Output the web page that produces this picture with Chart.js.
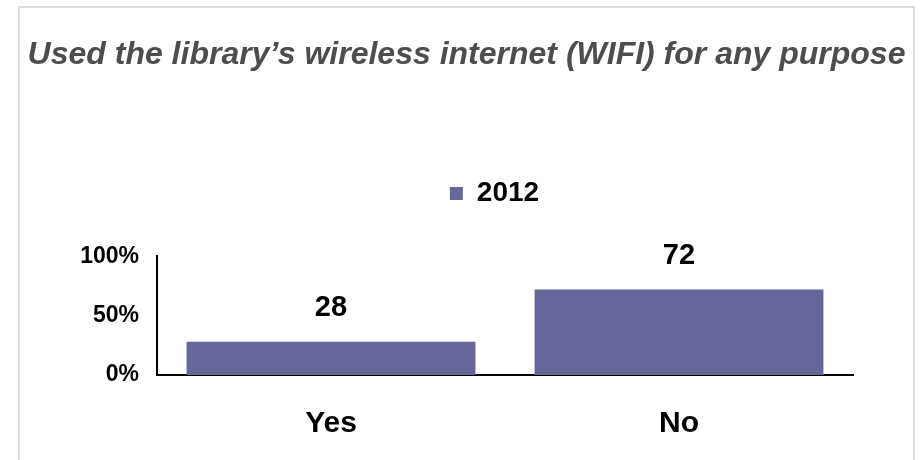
<!DOCTYPE html>
<html>
<head>
<meta charset="utf-8">
<script src="https://cdn.jsdelivr.net/npm/chart.js@4"></script>
<style>
  html, body { margin: 0; padding: 0; background: #fff; }
</style>
</head>
<body>
<canvas id="wifi_chart" width="921" height="460"></canvas>
<script>
var chartTitle = "Used the library\u2019s wireless internet (WIFI) for any purpose";
var categories = ["Yes", "No"];
var seriesName = "2012";
var seriesValues = [28, 72];
var yTicks = [0, 50, 100];

var fontFamily = "'Liberation Sans', Arial, sans-serif";
var barColor = "#666699";

// light grey frame around the whole chart
var framePlugin = {
    id: 'frame',
    beforeDraw: function (chart) {
        var ctx = chart.ctx;
        ctx.save();
        ctx.fillStyle = '#fff';
        ctx.fillRect(0, 0, chart.width, chart.height);
        ctx.strokeStyle = '#dedede';
        ctx.lineWidth = 2;
        ctx.strokeRect(19, 7, 895, 470);
        ctx.restore();
    }
};

// numbers written above each bar
var valueLabelPlugin = {
    id: 'valueLabels',
    afterDatasetsDraw: function (chart) {
        var ctx = chart.ctx;
        var meta = chart.getDatasetMeta(0);
        ctx.save();
        ctx.font = "bold 29px " + fontFamily;
        ctx.fillStyle = '#000';
        ctx.textAlign = 'center';
        ctx.textBaseline = 'middle';
        meta.data.forEach(function (bar, i) {
            ctx.fillText(String(seriesValues[i]), bar.x, bar.y - 34);
        });
        ctx.restore();
    }
};

// legend sits a little right of centre
var legendShiftPlugin = {
    id: 'legendShift',
    afterLayout: function (chart) {
        chart.legend.left += 28;
        chart.legend.right += 28;
    }
};

function renderWifiChart() {
    var context = document.getElementById("wifi_chart").getContext('2d');

    var wifiChart = new Chart(context, {
        type: 'bar',
        data: {
            labels: categories,
            datasets: [
                {
                    label: seriesName,
                    data: seriesValues,
                    backgroundColor: barColor,
                    borderWidth: 0,
                    categoryPercentage: 1,
                    barPercentage: 0.83
                }
            ]
        },
        options: {
            responsive: false,
            animation: false,
            layout: {
                padding: { left: 18, right: 6, top: 0, bottom: 18 }
            },
            plugins: {
                title: {
                    display: true,
                    text: chartTitle,
                    color: '#4d4d4d',
                    font: { family: fontFamily, size: 32, weight: 'bold', style: 'italic' },
                    padding: { top: 36, bottom: 95 }
                },
                subtitle: {
                    display: true,
                    text: '',
                    weight: 500,
                    font: { size: 10, lineHeight: 1 },
                    padding: { top: 0, bottom: 29 }
                },
                legend: {
                    display: true,
                    labels: {
                        color: '#000',
                        boxWidth: 13,
                        boxHeight: 13,
                        font: { family: fontFamily, size: 28, weight: 'bold' }
                    }
                },
                tooltip: { enabled: false }
            },
            scales: {
                x: {
                    grid: { display: false, drawTicks: false },
                    border: { display: true, color: '#000', width: 2 },
                    ticks: {
                        color: '#000',
                        padding: 31,
                        font: { family: fontFamily, size: 30, weight: 'bold' }
                    },
                    afterFit: function (scale) {
                        scale.height = 67;
                        scale.paddingRight = 68;
                    }
                },
                y: {
                    min: 0,
                    max: 100,
                    grid: { display: false, drawTicks: false },
                    border: { display: true, color: '#000', width: 2 },
                    ticks: {
                        color: '#000',
                        padding: 18,
                        font: { family: fontFamily, size: 23, weight: 'bold' },
                        callback: function (value) { return value + '%'; }
                    },
                    afterBuildTicks: function (scale) {
                        scale.ticks = yTicks.map(function (v) { return { value: v }; });
                    },
                    afterFit: function (scale) {
                        scale.width = 139;
                    }
                }
            }
        },
        plugins: [framePlugin, valueLabelPlugin, legendShiftPlugin]
    });
}

renderWifiChart();
</script>
</body>
</html>
